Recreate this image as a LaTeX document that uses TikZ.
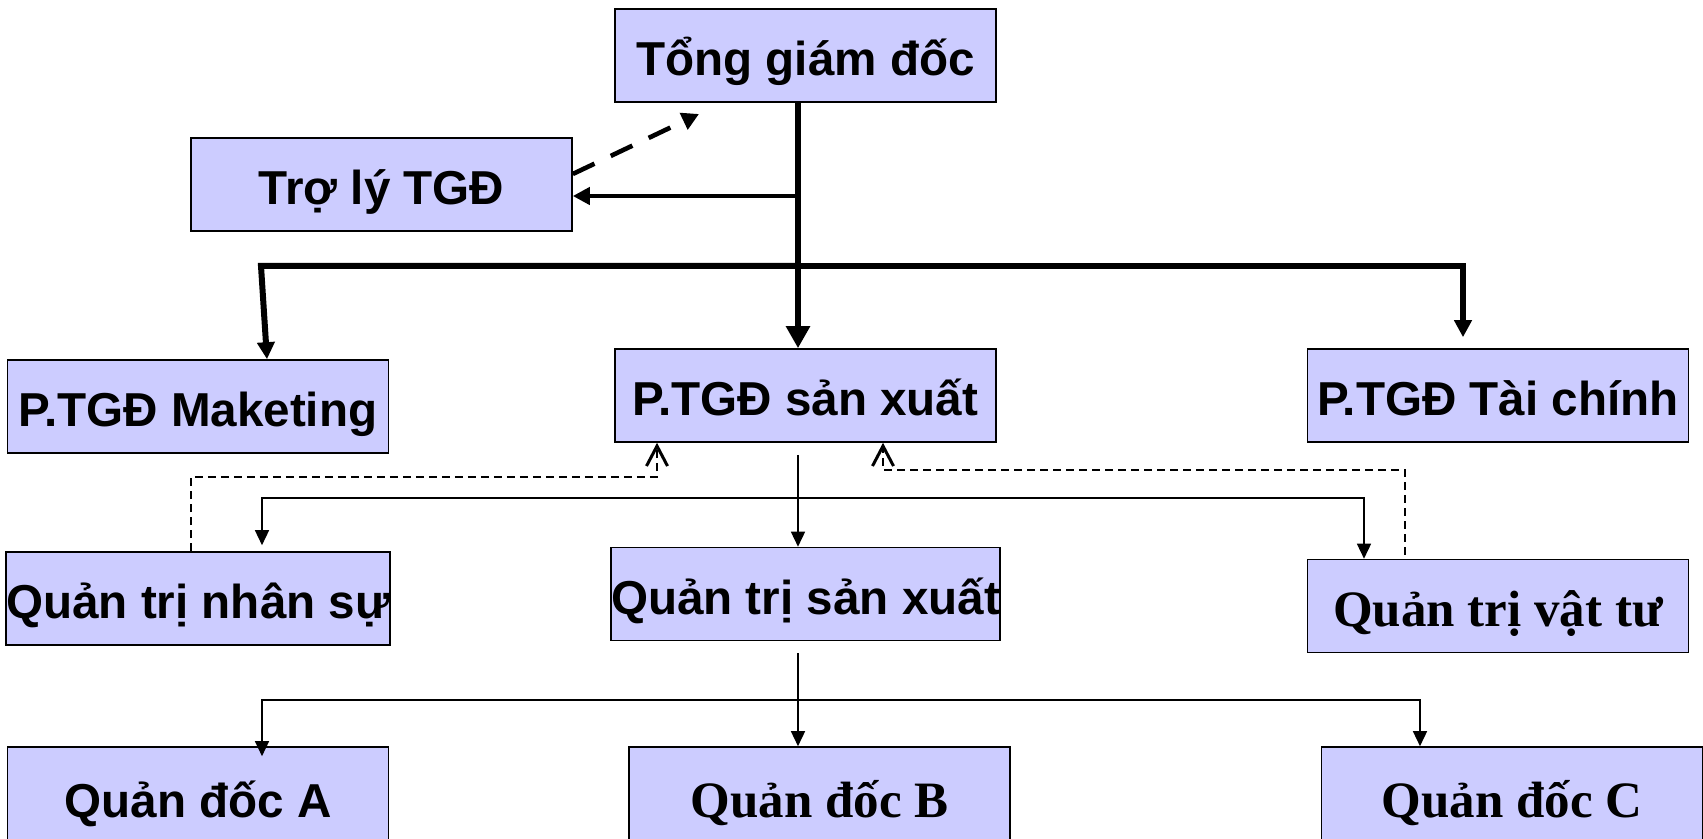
\documentclass[tikz,border=0pt]{standalone}
\usepackage{fontspec}
\newfontfamily\arialfont{Liberation Sans}
\newfontfamily\timesfont{Liberation Serif}
\usetikzlibrary{arrows.meta}
\definecolor{boxblue}{HTML}{CCCCFF}

\begin{document}
\begin{tikzpicture}[
  x=0.5pt, y=-0.5pt,
  mybox/.style={draw, line width=0.8pt, fill=boxblue, minimum width=190.5pt, minimum height=46.5pt,
    inner sep=0pt, text height=20pt, text depth=0pt, font=\arialfont\bfseries\fontsize{23.8}{28}\selectfont},
  myserif/.style={mybox, font=\timesfont\bfseries\fontsize{25.5}{30}\selectfont},
  lowbox/.style={minimum height=50pt},
  boldarrow/.style={line width=3pt, -{Triangle[length=8.5pt,width=8.5pt]}},
  thinarrow/.style={line width=0.75pt, -{Triangle[length=7.5pt,width=7pt]}},
  dashline/.style={line width=0.7pt, dash pattern=on 4pt off 2.5pt,
    -{Straight Barb[length=10pt,width=10.5pt,line width'=1.5pt]}},
]
\useasboundingbox (0,0) rectangle (1703,839);

\node[mybox] (tgd) at (805.5,55.5) {Tổng giám đốc};
\node[mybox] (tro) at (381.5,184.5) {Trợ lý TGĐ};
\node[mybox] (pm) at (198,406.5) {P.TGĐ Maketing};
\node[mybox] (psx) at (805.5,395.5) {P.TGĐ sản xuất};
\node[mybox] (ptc) at (1498,395.5) {P.TGĐ Tài chính};
\node[mybox] (qns) at (198,598.5) {Quản trị nhân sự};
\node[mybox] (qsx) at (805.5,594) {Quản trị sản xuất};
\node[myserif] (qvt) at (1498,606) {Quản trị vật tư};
\node[mybox, lowbox] (qa) at (198,797) {Quản đốc A};
\node[myserif, lowbox] (qb) at (819.5,797) {Quản đốc B};
\node[myserif, lowbox] (qc) at (1512,797) {Quản đốc C};

% top level
\coordinate (trunk) at (798,266);
\coordinate (b1L) at (261,266);
\coordinate (b1R) at (1463,266);
\coordinate (tj) at (798,196);
\coordinate (dt) at (699,114);
\draw[line width=3pt, -{Triangle[length=11pt,width=11.5pt]}] (tgd.south -| trunk) -- (psx.north -| trunk);
\draw[boldarrow, line width=2.3pt] (tj) -- (tj -| tro.east);
\draw[line width=2.3pt, dash pattern=on 12pt off 9pt, -{Triangle[length=8.5pt,width=8.8pt]}]
  ([yshift=5.25pt]tro.east) -- (dt);
\draw[boldarrow] (trunk) -- (b1L) -- ([xshift=34.5pt]pm.north);
\draw[boldarrow] (trunk) -- (b1R) -- ([yshift=5.5pt]ptc.north -| b1R);

% middle level
\coordinate (b2L) at (262,498);
\coordinate (b2R) at (1364,498);
\draw[thinarrow] ([yshift=-6pt]psx.south -| trunk) -- (qsx.north -| trunk);
\draw[thinarrow] (b2R) -- (b2L) -- ([yshift=3pt]qns.north -| b2L);
\draw[thinarrow] (b2L) -- (b2R) -- (qvt.north -| b2R);

% feedback
\coordinate (fL) at (191,477);
\coordinate (fLt) at (657,477);
\coordinate (fR) at (1405,470);
\coordinate (fRt) at (883,470);
\draw[dashline] (qns.north -| fL) -- (fL) -- (fLt) -- (psx.south -| fLt);
\draw[dashline] ([yshift=2pt]qvt.north -| fR) -- (fR) -- (fRt) -- (psx.south -| fRt);

% bottom level
\coordinate (b3L) at (262,700);
\coordinate (b3R) at (1420,700);
\draw[thinarrow] ([yshift=-6pt]qsx.south -| trunk) -- (qb.north -| trunk);
\draw[thinarrow] (b3R) -- (b3L) -- ([yshift=-5pt]qa.north -| b3L);
\draw[thinarrow] (b3L) -- (b3R) -- (qc.north -| b3R);
\end{tikzpicture}
\end{document}
